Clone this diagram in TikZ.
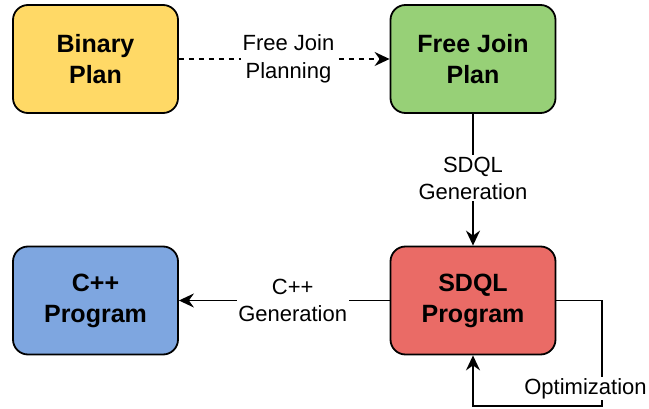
\documentclass[tikz,border=0pt]{standalone}
\usepackage{fontspec}
\setmainfont{Liberation Sans}
\usetikzlibrary{arrows.meta}
\definecolor{cyellow}{HTML}{FFD966}
\definecolor{cgreen}{HTML}{97D077}
\definecolor{cblue}{HTML}{7EA6E0}
\definecolor{cred}{HTML}{EA6B66}
\begin{document}
\begin{tikzpicture}[x=1pt,y=-1pt,
  box/.style={draw=black, line width=1.8pt, rounded corners=15pt, minimum width=165pt, minimum height=108pt, align=center, font=\fontsize{25}{31}\selectfont\bfseries, inner sep=0pt},
  lbl/.style={fill=white, align=center, font=\fontsize{22}{27.5}\selectfont, inner sep=1.5pt},
  conn/.style={line width=1.7pt, -{Stealth[length=15pt,width=14pt,inset=5pt]}}]
\useasboundingbox (0,0) rectangle (649,409);
\node[box, fill=cyellow] (bin) at (95.5,59) {Binary\\Plan};
\node[box, fill=cgreen] (fj) at (473,59) {Free Join\\Plan};
\node[box, fill=cblue] (cpp) at (95.5,300.5) {C++\\Program};
\node[box, fill=cred] (sdql) at (473,300.5) {SDQL\\Program};
\coordinate (lr) at (602,406);
\draw[conn, dash pattern=on 5pt off 5pt] (bin) -- node[lbl, pos=0.52] (l1) {Free Join\\Planning} (fj);
\draw[conn] (fj) -- node[lbl, pos=0.49] (l2) {SDQL\\Generation} (sdql);
\draw[conn] (sdql) -- node[lbl, pos=0.46] (l3) {C++\\Generation} (cpp);
\draw[conn] (sdql.east) -| (lr) -| (sdql.south);
\node[lbl] (opt) at (585.5,388.5) {Optimization};
\end{tikzpicture}
\end{document}
